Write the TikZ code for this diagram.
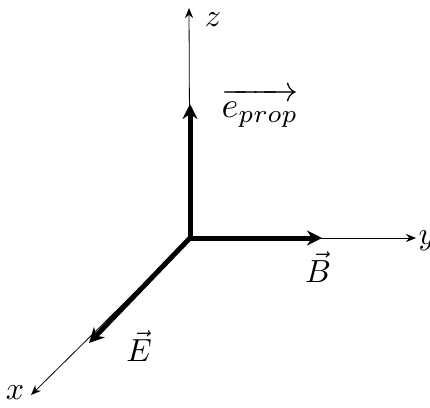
\documentclass[tikz,border=0pt]{standalone}
\usepackage{amsmath,amssymb}
\usepackage{graphicx}
\usepackage{tikz}
\usetikzlibrary{arrows.meta,positioning}

\newcommand{\biglbl}[1]{\scalebox{3.2}{#1}}

\begin{document}
\begin{tikzpicture}[
    x=1pt, y=-1pt,
    axis/.style={-{Stealth[length=10pt,width=8pt]}, line width=0.8pt},
    field/.style={-{Stealth[length=15pt,width=15pt]}, line width=5pt},
    lbl/.style={inner sep=1pt}
]
    \useasboundingbox (0,0) rectangle (430,407);
    % origin and axis ends
    \coordinate (o) at (190,238);
    \coordinate (zend) at (189,8);
    \coordinate (yend) at (416,238);
    \coordinate (xend) at (31,395);
    % field vectors
    \coordinate (eprop) at (190,104);
    \coordinate (bvec) at (322,238);
    \coordinate (evec) at (89,343);

    \draw[axis] (o) -- (zend);
    \draw[axis] (o) -- (yend);
    \draw[axis] (o) -- (xend);

    \draw[field] (o) -- (eprop);
    \draw[field] (o) -- (bvec);
    \draw[field] (o) -- (evec);

    \node[lbl] (zlbl) at (213,20) {\biglbl{$z$}};
    \node[lbl] (ylbl) at (427,241) {\biglbl{$y$}};
    \node[lbl] (xlbl) at (15,393) {\biglbl{$x$}};
    \node[lbl] (elbl) at (260,108) {\scalebox{3.6}{$\overrightarrow{e_{prop}}$}};
    \node[lbl] (blbl) at (318,267) {\biglbl{$\vec{B}$}};
    \node[lbl] (Elbl) at (139,346) {\biglbl{$\vec{E}$}};
\end{tikzpicture}
\end{document}
